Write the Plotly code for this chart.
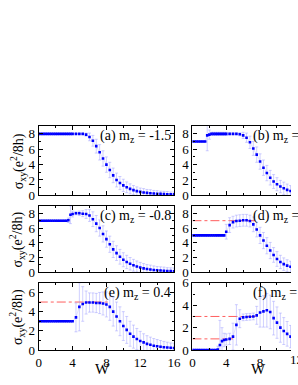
import plotly.graph_objects as go

W = [0, 0.25, 0.5, 0.75, 1.0, 1.25, 1.5, 1.75, 2.0, 2.25, 2.5, 2.75, 3.0, 3.25, 3.5, 3.75, 4.0,
     4.4, 4.8, 5.2, 5.6, 6.0, 6.4, 6.8, 7.2, 7.6, 8.0, 8.4, 8.8, 9.2, 9.6, 10.0, 10.4, 10.8,
     11.2, 11.6, 12.0, 12.4, 12.8, 13.2, 13.6, 14.0, 14.4, 14.8, 15.2, 15.6, 16.0]

sig_a = [8.0]*17 + [8.0, 8.0, 8.0, 7.9, 7.6, 7.1, 6.4, 5.6, 4.8, 4.0, 3.3, 2.6, 2.0, 1.6, 1.3,
                    1.05, 0.85, 0.68, 0.55, 0.45, 0.38, 0.32, 0.28, 0.24, 0.21, 0.19, 0.17,
                    0.15, 0.14, 0.13]
err_a = [0.03]*17 + [0.03, 0.03, 0.05, 0.2, 0.5, 0.7, 0.9, 1.0, 1.0, 1.0, 1.0, 0.95, 0.9,
                     0.85, 0.8, 0.7, 0.65, 0.6, 0.55, 0.5, 0.5, 0.45, 0.45, 0.4, 0.4, 0.35,
                     0.35, 0.35, 0.3, 0.3]

sig_b = [7.0]*7 + [7.8, 7.9] + [8.0]*8 + [8.0, 8.0, 8.0, 7.95, 7.8, 7.5, 6.9, 6.1, 5.3, 4.4,
                                         3.6, 2.9, 2.3, 1.8, 1.45, 1.15, 0.92, 0.72, 0.57,
                                         0.46, 0.38, 0.31, 0.26, 0.22, 0.19, 0.16, 0.14,
                                         0.12, 0.11, 0.1]
err_b = [0.05]*7 + [2.0, 0.6] + [0.2]*8 + [0.1, 0.1, 0.1, 0.2, 0.4, 0.6, 0.8, 0.9, 1.0, 1.0,
                                          1.0, 1.0, 0.95, 0.9, 0.85, 0.8, 0.8, 0.75, 0.7,
                                          0.65, 0.6, 0.55, 0.5, 0.5, 0.45, 0.45, 0.4, 0.4,
                                          0.4, 0.4]

sig_c = [7.0]*14 + [7.05, 7.8, 7.9, 8.0, 8.0, 7.95, 7.9, 7.7, 7.2, 6.6, 6.0, 5.2, 4.5, 3.8,
                    3.1, 2.6, 2.1, 1.7, 1.4, 1.15, 0.95, 0.78, 0.64, 0.53, 0.44, 0.37, 0.31,
                    0.27, 0.23, 0.2, 0.17, 0.15, 0.13]
err_c = [0.05]*14 + [0.3, 1.2, 0.4, 0.2, 0.3, 0.4, 0.6, 0.8, 1.0, 1.1, 1.1, 1.1, 1.1, 1.1,
                     1.1, 1.0, 1.0, 0.95, 0.9, 0.85, 0.8, 0.75, 0.7, 0.65, 0.6, 0.6, 0.55,
                     0.5, 0.5, 0.5, 0.45, 0.45, 0.45]

sig_d = [5.0]*16 + [5.5, 6.4, 6.8, 6.95, 7.0, 7.05, 7.05, 6.95, 6.5, 5.8, 5.0, 4.3, 3.6, 2.95,
                    2.35, 1.8, 1.4, 1.1, 0.9, 0.75, 0.62, 0.52, 0.44, 0.37, 0.31, 0.27, 0.23,
                    0.2, 0.17, 0.15, 0.13]
err_d = [0.05]*16 + [1.0, 1.0, 0.8, 0.8, 0.8, 0.8, 0.8, 0.8, 1.0, 1.0, 1.1, 1.1, 1.1, 1.1,
                     1.0, 1.0, 0.9, 0.85, 0.8, 0.75, 0.7, 0.65, 0.6, 0.6, 0.55, 0.5, 0.5,
                     0.5, 0.45, 0.45, 0.45]

sig_e = [3.0]*17 + [3.4, 4.5, 4.8, 4.95, 4.95, 4.95, 4.9, 4.9, 4.85, 4.75, 4.5, 4.0, 3.5, 3.0,
                    2.5, 2.1, 1.7, 1.4, 1.15, 0.95, 0.8, 0.65, 0.55, 0.45, 0.4, 0.35, 0.3,
                    0.27, 0.24, 0.22]
err_e = [0.05]*17 + [1.5, 2.5, 1.8, 1.2, 1.0, 1.0, 1.0, 1.1, 1.2, 1.3, 1.4, 1.5, 1.5, 1.5,
                     1.5, 1.4, 1.3, 1.2, 1.1, 1.0, 0.9, 0.85, 0.8, 0.75, 0.7, 0.65, 0.6,
                     0.55, 0.5, 0.5]

sig_f = [0.0]*12 + [0.05, 0.45, 0.8, 0.9, 0.95, 1.0, 1.2, 2.25, 2.8, 2.92, 2.95, 2.97, 3.0,
                    3.1, 3.35, 3.45, 3.55, 3.4, 2.85, 2.45, 2.0, 1.7, 1.45, 1.2, 1.0, 0.85,
                    0.7, 0.6, 0.5, 0.42, 0.36, 0.3, 0.26, 0.22, 0.2]
err_f = [0.02]*12 + [0.3, 2.2, 1.2, 0.6, 0.5, 0.5, 1.2, 1.8, 0.8, 0.3, 0.3, 0.3, 0.3, 0.8,
                     1.3, 1.4, 1.5, 1.5, 1.5, 1.4, 1.3, 1.2, 1.1, 1.0, 0.9, 0.85, 0.8, 0.75,
                     0.7, 0.65, 0.6, 0.55, 0.5]

# reference (dash-dot) lines: [x0, x1], level
ref_d = [([0, 7.4], 7)]
ref_e = [([0, 8.3], 5)]
ref_f = [([0, 7.6], 3), ([0, 4.8], 1)]

labels = ["(a) m<sub>z</sub> = -1.5", "(b) m<sub>z</sub> = -1.2", "(c) m<sub>z</sub> = -0.8",
          "(d) m<sub>z</sub> = -0.4", "(e) m<sub>z</sub> = 0.4", "(f) m<sub>z</sub> = 0.8"]
panels = [(sig_a, err_a, []), (sig_b, err_b, []), (sig_c, err_c, []),
          (sig_d, err_d, ref_d), (sig_e, err_e, ref_e), (sig_f, err_f, ref_f)]
yranges = [[0, 9], [0, 9], [0, 9], [0, 9], [0, 7], [0, 6]]
yticks = [[0, 2, 4, 6, 8]]*4 + [[0, 2, 4, 6], [0, 2, 4, 6]]
xticks = [0, 4, 8, 12, 16]

FW, FH = 298, 385
cols = [(37, 177), (196, 298)]
rows = [(124, 196), (207, 276), (287, 357)]
PX_PER_W = 140 / 16.0

fig = go.Figure()
FONT = "Liberation Serif"

for i, (sig, err, refs) in enumerate(panels):
    r, c = divmod(i, 2)
    ax = "" if i == 0 else str(i + 1)
    xa, ya = "x" + ax, "y" + ax
    for (xs, lvl) in refs:
        fig.add_trace(go.Scatter(x=xs, y=[lvl, lvl], xaxis=xa, yaxis=ya, mode="lines",
                                 line=dict(color="rgba(255,40,40,0.75)", width=1, dash="dashdot"),
                                 hoverinfo="skip"))
    fig.add_trace(go.Scatter(
        x=W, y=sig, xaxis=xa, yaxis=ya, mode="lines+markers",
        line=dict(color="rgba(90,90,255,0.3)", width=0.6),
        marker=dict(symbol="square", size=2.6, color="#0000ff"),
        error_y=dict(type="data", array=err, visible=True, color="rgba(150,150,255,0.45)",
                     thickness=1, width=1.5)))
    x0, x1 = cols[c]
    y0, y1 = rows[r]
    xr = [0, (x1 - x0) / PX_PER_W]
    common = dict(showline=True, linecolor="black", linewidth=1.2, ticks="inside",
                  ticklen=4, tickcolor="black", showgrid=False, zeroline=False,
                  tickfont=dict(family=FONT, size=13, color="black"))
    fig.layout["xaxis" + ax] = dict(
        domain=[x0 / FW, x1 / FW], range=xr, anchor=ya, tickvals=xticks,
        showticklabels=(r == 2), mirror="allticks",
        minor=dict(dtick=2, ticklen=2, ticks="inside", tickcolor="black"), **common)
    fig.layout["yaxis" + ax] = dict(
        domain=[1 - y1 / FH, 1 - y0 / FH], range=yranges[i], anchor=xa, tickvals=yticks[i],
        mirror=("allticks" if c == 0 else False),
        minor=dict(dtick=1, ticklen=2, ticks="inside", tickcolor="black"), **common)
    if c == 0:
        fig.add_annotation(text=labels[i], xref="paper", yref="paper", x=175.5 / FW, y=1 - (y0 + 11) / FH,
                           xanchor="right", yanchor="middle", showarrow=False,
                           font=dict(family=FONT, size=14, color="black"))
        fig.add_annotation(text="σ<sub>xy</sub>(e<sup>2</sup>/8h)", xref="paper", yref="paper",
                           x=15 / FW, y=1 - (y0 + y1) / 2 / FH, textangle=-90,
                           xanchor="center", yanchor="middle", showarrow=False,
                           font=dict(family=FONT, size=14, color="black"))
    else:
        fig.add_annotation(text=labels[i], xref="paper", yref="paper", x=257 / FW, y=1 - (y0 + 11) / FH,
                           xanchor="left", yanchor="middle", showarrow=False,
                           font=dict(family=FONT, size=14, color="black"))

# the partially visible "12" tick label of the right column (runs past the window edge)
fig.add_annotation(text="12", xref="x6", yref="paper", x=11.25, y=1 - 366.5 / FH,
                   xanchor="left", yanchor="middle", showarrow=False,
                   font=dict(family=FONT, size=13, color="black"))

# x-axis titles
for xc in (103, 264):
    fig.add_annotation(text="W", xref="paper", yref="paper", x=xc / FW, y=1 - 377 / FH,
                       xanchor="center", yanchor="middle", showarrow=False,
                       font=dict(family=FONT, size=15, color="black"))

fig.update_layout(width=FW, height=FH, margin=dict(l=0, r=0, t=0, b=0),
                  paper_bgcolor="white", plot_bgcolor="white", showlegend=False,
                  font=dict(family=FONT, size=13, color="black"))
fig.write_html("out.html", config={"displayModeBar": False},
               post_script="document.body.style.margin='0';document.body.style.padding='0';")
